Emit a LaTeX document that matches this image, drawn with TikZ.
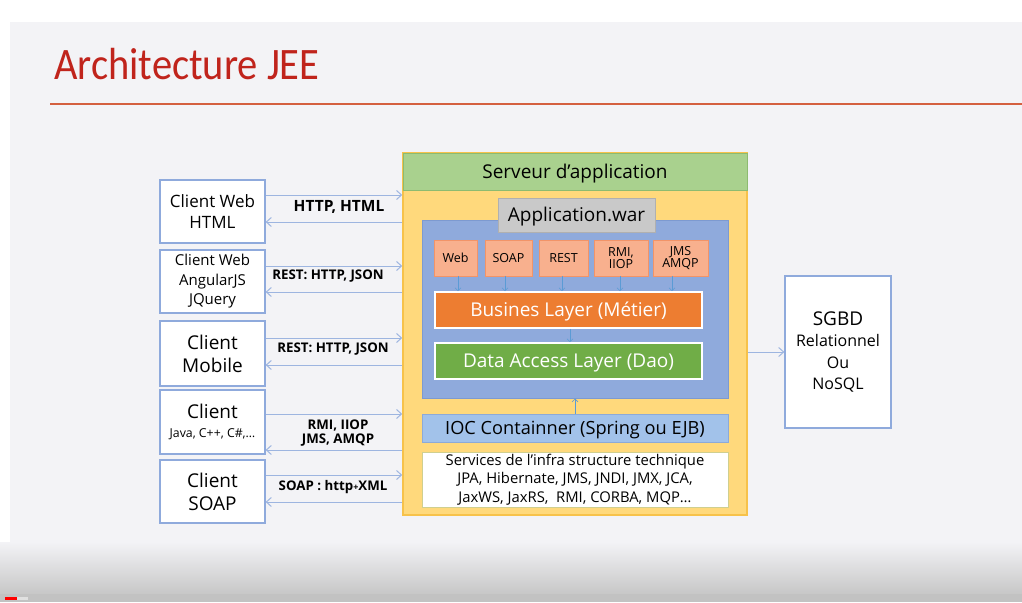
\documentclass[tikz,border=0pt]{standalone}
\usepackage{fontspec}
\setmainfont{Open Sans}
\newfontfamily\titlefont[FakeStretch=0.9]{Carlito}
\usetikzlibrary{arrows.meta,calc}

\definecolor{slidebg}{HTML}{F3F3F6}
\definecolor{titlered}{HTML}{C0241C}
\definecolor{ruleline}{HTML}{D4603F}
\definecolor{cliborder}{HTML}{8FAADC}
\definecolor{arrowblue}{HTML}{9DB5E0}
\definecolor{hdrgreen}{HTML}{A9D18E}
\definecolor{hdrgreenb}{HTML}{8DBB70}
\definecolor{srvyellow}{HTML}{FFD97C}
\definecolor{srvyellowb}{HTML}{F7C24A}
\definecolor{wargray}{HTML}{C9C9C9}
\definecolor{wargrayb}{HTML}{B0B0B0}
\definecolor{panelblue}{HTML}{8FAADC}
\definecolor{panelblueb}{HTML}{7D9AD0}
\definecolor{protofill}{HTML}{F8B08E}
\definecolor{protoborder}{HTML}{F29468}
\definecolor{bizorange}{HTML}{ED7D31}
\definecolor{daogreen}{HTML}{70AD47}
\definecolor{iocblue}{HTML}{A2C2EA}
\definecolor{iocblueb}{HTML}{8DAAD8}
\definecolor{svcborder}{HTML}{D0CF8F}
\definecolor{smallarrow}{HTML}{5B9BD5}

\tikzset{
  % centre a single line on its capital letters
  capcenter/.style={text height=#1, text depth=0pt},
  client/.style={draw=cliborder, fill=white, line width=1.2pt, align=center,
    inner sep=0pt, minimum width=105pt},
  conn/.style={draw=arrowblue, line width=1pt, -{Straight Barb[length=5pt,width=9pt]}},
  lbl/.style={font=\fontsize{13.3}{15}\selectfont\bfseries, inner sep=0pt, align=center},
  proto/.style={draw=protoborder, fill=protofill, line width=0.8pt, align=center,
    inner sep=0pt, minimum height=36pt,
    font=\fontsize{12.5}{14}\selectfont},
  layer/.style={draw=white, line width=1.6pt, text=white, inner sep=0pt, capcenter=13.6pt,
    minimum width=267pt, minimum height=36pt, font=\fontsize{19}{22}\selectfont},
  down/.style={draw=smallarrow, line width=0.6pt, -{Straight Barb[length=3pt,width=6pt]}},
}

\begin{document}
\begin{tikzpicture}[x=1pt,y=-1pt]
  \useasboundingbox (0,0) rectangle (1022,602);
  % page and slide backgrounds
  \fill[white] (0,0) rectangle (1022,602);
  \fill[slidebg] (10,22) rectangle (1022,580);
  \shade[top color=slidebg, bottom color=black!22] (0,542) rectangle (1022,594);
  \fill[black!24] (0,594) rectangle (1022,602);
  \fill[black!12] (17,597) rectangle (28,600);
  \fill[red] (5,597) rectangle (17,600);

  % title
  \node[anchor=base west, inner sep=0pt, text=titlered,
        font=\titlefont\fontsize{45}{48}\selectfont] (title) at (54,79) {Architecture JEE};
  \draw[ruleline, line width=2pt] (50,104) -- (1022,104);

  % application server
  \node[draw=srvyellowb, fill=srvyellow, line width=1.5pt, minimum width=344pt,
        minimum height=362pt, inner sep=0pt] (srv) at (575,334) {};
  \node[draw=hdrgreenb, fill=hdrgreen, line width=0.8pt, minimum width=344pt,
        minimum height=37pt, inner sep=0pt, capcenter=13.6pt, font=\fontsize{19}{22}\selectfont]
        (hdr) at (575,171.5) {Serveur d’application};

  % web application panel
  \node[draw=panelblueb, fill=panelblue, line width=1pt, minimum width=306pt,
        minimum height=178pt, inner sep=0pt] (panel) at (575,309) {};
  \node[draw=wargrayb, fill=wargray, line width=0.8pt, minimum width=157pt,
        minimum height=34pt, inner sep=0pt, capcenter=13.6pt, font=\fontsize{19}{22}\selectfont]
        (war) at (576.5,215) {Application.war};

  % protocol endpoints
  \node[proto, capcenter=8.9pt, minimum width=43pt] (web)  at (455.5,258) {Web};
  \node[proto, capcenter=8.9pt, minimum width=47pt] (soap) at (508.5,258) {SOAP};
  \node[proto, capcenter=8.9pt, minimum width=49pt] (rest) at (563.5,258) {REST};
  \node[proto, minimum width=54pt] (rmi)  at (621,258) {RMI,\\[-2pt]IIOP};
  \node[proto, minimum width=55pt] (jms)  at (680.5,258) {JMS\\[-2pt]AMQP};

  % layers
  \node[layer, fill=bizorange] (biz) at (568.5,310) {Busines Layer (Métier)};
  \node[layer, fill=daogreen]  (dao) at (568.5,361) {Data Access Layer (Dao)};

  \foreach \p/\x in {web/458,soap/505,rest/562,rmi/620,jms/672}
    \draw[down] (\p.south -| \x,0) -- (biz.north -| \x,0);
  \draw[down] (biz.south -| 570,0) -- (dao.north -| 570,0);

  % container and infrastructure services
  \node[draw=iocblueb, fill=iocblue, line width=1pt, minimum width=306pt,
        minimum height=28pt, inner sep=0pt, capcenter=13pt, font=\fontsize{18.2}{22}\selectfont]
        (ioc) at (575,428) {IOC Containner (Spring ou EJB)};
  \draw[down] (ioc.north -| 575,0) -- (panel.south -| 575,0);
  \node[draw=svcborder, fill=white, line width=1pt, minimum width=306pt,
        minimum height=55pt, inner sep=0pt, align=center,
        font=\fontsize{14.8}{18.5}\selectfont] (svc) at (575,479.5)
        {Services de l’infra structure technique\\JPA, Hibernate, JMS, JNDI, JMX, JCA,\\JaxWS, JaxRS,\ \ RMI, CORBA, MQP…};

  % clients
  \node[client, minimum height=63pt, font=\fontsize{17}{21}\selectfont]
        (c1) at (212.5,211.5) {Client Web\\HTML};
  \node[client, minimum height=63pt, font=\fontsize{15}{19.5}\selectfont]
        (c2) at (212.5,281.5) {Client Web\\AngularJS\\JQuery};
  \node[client, minimum height=65pt, font=\fontsize{19}{23}\selectfont]
        (c3) at (212.5,353.5) {Client\\Mobile};
  \node[client, minimum height=64pt, font=\fontsize{19}{19}\selectfont]
        (c4) at (212.5,422) {Client\\{\fontsize{12.3}{13}\selectfont Java, C++, C\#,…}};
  \node[client, minimum height=63pt, font=\fontsize{19}{23}\selectfont]
        (c5) at (212.5,491.5) {Client\\SOAP};

  % client <-> server exchanges
  \draw[conn] ([yshift=16.5pt]c1.east) -- ([yshift=16.5pt]c1.east -| srv.west);
  \draw[conn] ([yshift=-10.5pt]c1.east -| srv.west) -- ([yshift=-10.5pt]c1.east);
  \node[lbl, font=\fontsize{15.5}{17}\selectfont\bfseries] (l1) at (339,207) {HTTP, HTML};

  \draw[conn] ([yshift=15.5pt]c2.east) -- ([yshift=15.5pt]c2.east -| srv.west);
  \draw[conn] ([yshift=-10.5pt]c2.east -| srv.west) -- ([yshift=-10.5pt]c2.east);
  \node[lbl] (l2) at (328,276) {REST: HTTP, JSON};

  \draw[conn] ([yshift=15.5pt]c3.east) -- ([yshift=15.5pt]c3.east -| srv.west);
  \draw[conn] ([yshift=-11.5pt]c3.east -| srv.west) -- ([yshift=-11.5pt]c3.east);
  \node[lbl] (l3) at (333,349) {REST: HTTP, JSON};

  \draw[conn] ([yshift=8pt]c4.east) -- ([yshift=8pt]c4.east -| srv.west);
  \draw[conn] ([yshift=-28pt]c4.east -| srv.west) -- ([yshift=-28pt]c4.east);
  \node[lbl, font=\fontsize{13.3}{14}\selectfont\bfseries] (l4) at (338,433) {RMI, IIOP\\JMS, AMQP};

  \draw[conn] ([yshift=16.5pt]c5.east) -- ([yshift=16.5pt]c5.east -| srv.west);
  \draw[conn] ([yshift=-10.5pt]c5.east -| srv.west) -- ([yshift=-10.5pt]c5.east);
  \node[lbl] (l5) at (333,487) {SOAP : http{\fontsize{9}{10}\selectfont+}XML};

  % database
  \node[client, minimum width=106pt, minimum height=152pt, align=center,
        font=\fontsize{16}{21.5}\selectfont] (db) at (838,352)
        {{\fontsize{19}{22}\selectfont SGBD}\\Relationnel\\Ou\\NoSQL};
  \draw[conn] (srv.east |- db.west) -- (db.west);
\end{tikzpicture}
\end{document}
